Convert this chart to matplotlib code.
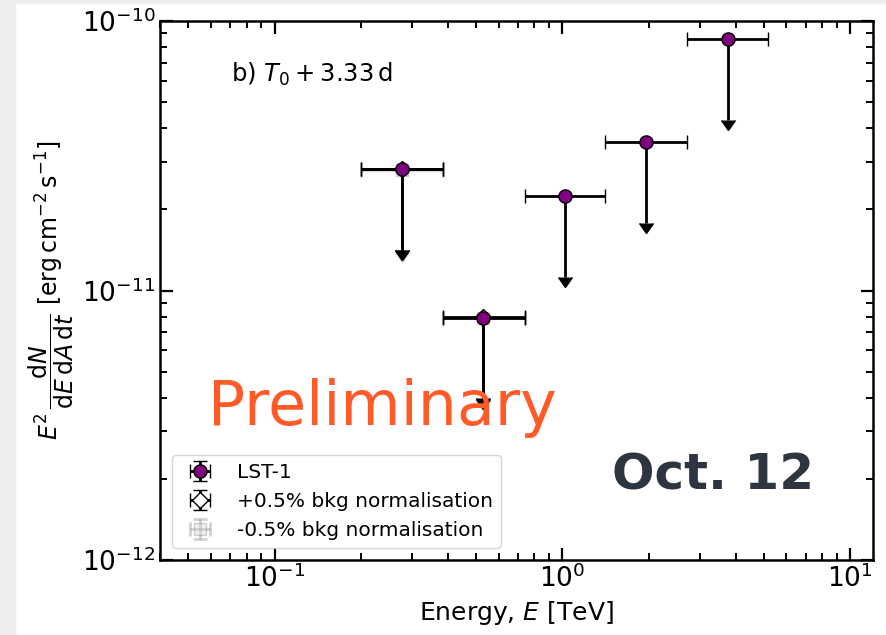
import numpy as np
import matplotlib
matplotlib.use("Agg")
import matplotlib.pyplot as plt
from matplotlib.patches import Rectangle

# LST-1 flux points (upper limits), energies in TeV
e_center = [0.277, 0.532, 1.02, 1.96, 3.76]
e_low = [0.20, 0.385, 0.739, 1.41, 2.72]
e_high = [0.385, 0.739, 1.41, 2.72, 5.19]
e2dnde_ul = [2.82e-11, 7.93e-12, 2.25e-11, 3.55e-11, 8.55e-11]

# background-normalisation systematics (first two bins)
sys_center = [0.277, 0.532]
sys_low = [0.20, 0.385]
sys_high = [0.385, 0.739]
sys_plus = [2.83e-11, 7.96e-12]
sys_minus = [2.81e-11, 7.90e-12]

def xerr_of(c, lo, hi):
    c, lo, hi = map(np.asarray, (c, lo, hi))
    return np.vstack([c - lo, hi - c])

fig = plt.figure(figsize=(8.87, 6.35), dpi=100)
fig.patches.append(Rectangle((0, 0), 15 / 887, 1, transform=fig.transFigure,
                             color="#eeeeee", zorder=-10))
fig.patches.append(Rectangle((0, 1 - 3 / 635), 1, 3 / 635, transform=fig.transFigure,
                             color="#eeeeee", zorder=-10))

ax = fig.add_axes([160 / 887, 1 - 560 / 635, 713 / 887, 539 / 635])

eb = dict(capsize=5, elinewidth=2, capthick=2, markeredgewidth=1,
          markeredgecolor="black", color="black", ecolor="black",
          linestyle="none", uplims=True)

y = np.asarray(sys_minus)
ax.errorbar(sys_center, y, xerr=xerr_of(sys_center, sys_low, sys_high), yerr=0.5 * y,
            marker="s", markersize=8, color="gray", markerfacecolor="lightgray",
            alpha=0.35, capsize=5, elinewidth=2, capthick=2, ecolor="gray",
            linestyle="none", uplims=True, label="-0.5% bkg normalisation", zorder=2)
y = np.asarray(sys_plus)
ax.errorbar(sys_center, y, xerr=xerr_of(sys_center, sys_low, sys_high), yerr=0.5 * y,
            marker="D", markersize=8.5, markerfacecolor="white",
            label="+0.5% bkg normalisation", zorder=3, **eb)
y = np.asarray(e2dnde_ul)
ax.errorbar(e_center, y, xerr=xerr_of(e_center, e_low, e_high), yerr=0.5 * y,
            marker="o", markersize=9.5, markerfacecolor="purple",
            label="LST-1", zorder=4, **eb)

ax.set_xscale("log")
ax.set_yscale("log")
ax.set_xlim(0.04, 12)
ax.set_ylim(1e-12, 1e-10)

for s in ax.spines.values():
    s.set_linewidth(1.8)
ax.tick_params(which="both", direction="in", top=True, right=True, labelsize=19)
ax.tick_params(which="major", length=9, width=1.6)
ax.tick_params(which="minor", length=5, width=1.4)

ax.set_xlabel(r"Energy, $E$ [TeV]", fontsize=18)
ax.set_ylabel(r"$E^2\,\dfrac{\mathrm{d}N}{\mathrm{d}E\,\mathrm{d}A\,\mathrm{d}t}$"
              r" [$\mathrm{erg\,cm^{-2}\,s^{-1}}$]", fontsize=17, labelpad=4)

ax.text(0.10, 0.90, r"b) $T_0 + 3.33\,\mathrm{d}$", transform=ax.transAxes,
        fontsize=17.5, va="center")

handles, labels = ax.get_legend_handles_labels()
ax.legend(handles[::-1], labels[::-1], loc="lower left", fontsize=14.5,
          handletextpad=0.8, borderaxespad=0.6)

fig.text(208 / 887, 1 - 425 / 635, "Preliminary", color="#ff5a28",
         fontsize=44.5, va="baseline", ha="left")
fig.text(612 / 887, 1 - 490 / 635, "Oct. 12", color="#2d3640",
         fontsize=36, fontweight="bold", va="baseline", ha="left")

fig.savefig("out.png", dpi=100)
